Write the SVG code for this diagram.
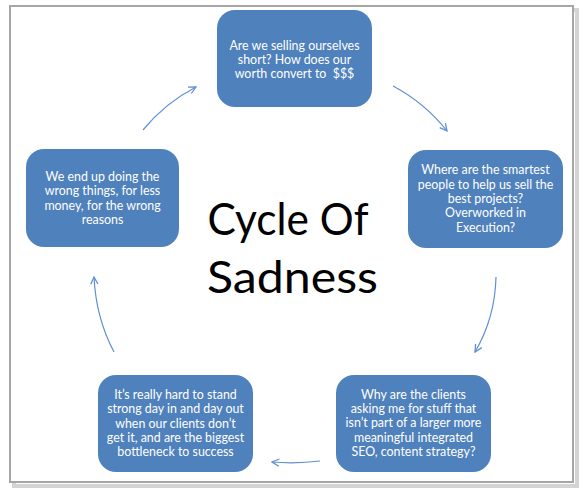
<svg xmlns="http://www.w3.org/2000/svg" width="586" height="492" viewBox="0 0 586 492">
<style>
.node{fill:#4F81BD;}
.t{font-family:Lato,"Liberation Sans",sans-serif;font-size:12.4px;fill:#FFFFFF;text-anchor:middle;}
.title{font-family:Lato,"Liberation Sans",sans-serif;font-size:44px;fill:#000000;text-anchor:middle;}
.arr{fill:none;stroke:#5F8FD2;stroke-width:1.2;marker-end:url(#ah);}
</style>
<defs>
<marker id="ah" viewBox="0 0 10 10" refX="9" refY="5" markerWidth="9" markerHeight="9" markerUnits="userSpaceOnUse" orient="auto">
<path d="M1,1 L9,5 L1,9" fill="none" stroke="#5F8FD2" stroke-width="1.4"/>
</marker>
</defs>
<rect x="0" y="0" width="586" height="492" fill="#FFFFFF"/>
<g id="frame">
<rect x="14" y="10" width="563" height="476" fill="none" stroke="#D4D4D4" stroke-width="4"/>
<rect x="10" y="6" width="563" height="476" fill="#FFFFFF" stroke="#A6A6A6" stroke-width="2"/>
</g>
<g id="title">
<text class="title" x="288" y="235" textLength="161" lengthAdjust="spacingAndGlyphs">Cycle Of</text>
<text class="title" x="292.5" y="293" textLength="171" lengthAdjust="spacingAndGlyphs">Sadness</text>
</g>
<g id="connectors">
<path class="arr" d="M393,86 Q425,103 447,131"/>
<path class="arr" d="M496,277 Q495,318 475,352"/>
<path class="arr" d="M320,461 Q296,464 272,462"/>
<path class="arr" d="M114,352 Q96,318 94,277"/>
<path class="arr" d="M143,130 Q165,103 196,87"/>
</g>
<g id="node-top">
<rect class="node" x="217" y="10" width="155" height="97" rx="18"/>
<text class="t" x="294.5" y="50">Are we selling ourselves</text>
<text class="t" x="294.5" y="64">short? How does our</text>
<text class="t" x="294.5" y="78">worth convert to&#160; $$$</text>
</g>
<g id="node-right">
<rect class="node" x="408" y="150" width="155" height="98" rx="18"/>
<text class="t" x="485.5" y="174">Where are the smartest</text>
<text class="t" x="485.5" y="189">people to help us sell the</text>
<text class="t" x="485.5" y="203">best projects?</text>
<text class="t" x="485.5" y="217">Overworked in</text>
<text class="t" x="485.5" y="232">Execution?</text>
</g>
<g id="node-bottom-right">
<rect class="node" x="336" y="375" width="155" height="97" rx="18"/>
<text class="t" x="413.5" y="399">Why are the clients</text>
<text class="t" x="413.5" y="413">asking me for stuff that</text>
<text class="t" x="413.5" y="427">isn’t part of a larger more</text>
<text class="t" x="413.5" y="442">meaningful integrated</text>
<text class="t" x="413.5" y="456">SEO, content strategy?</text>
</g>
<g id="node-bottom-left">
<rect class="node" x="98" y="375" width="155" height="97" rx="18"/>
<text class="t" x="175.5" y="399">It’s really hard to stand</text>
<text class="t" x="175.5" y="413">strong day in and day out</text>
<text class="t" x="175.5" y="428">when our clients don’t</text>
<text class="t" x="175.5" y="442">get it, and are the biggest</text>
<text class="t" x="175.5" y="456">bottleneck to success</text>
</g>
<g id="node-left">
<rect class="node" x="26" y="149" width="153" height="98" rx="18"/>
<text class="t" x="102.5" y="181">We end up doing the</text>
<text class="t" x="102.5" y="195">wrong things, for less</text>
<text class="t" x="102.5" y="210">money, for the wrong</text>
<text class="t" x="102.5" y="224">reasons</text>
</g>
</svg>
